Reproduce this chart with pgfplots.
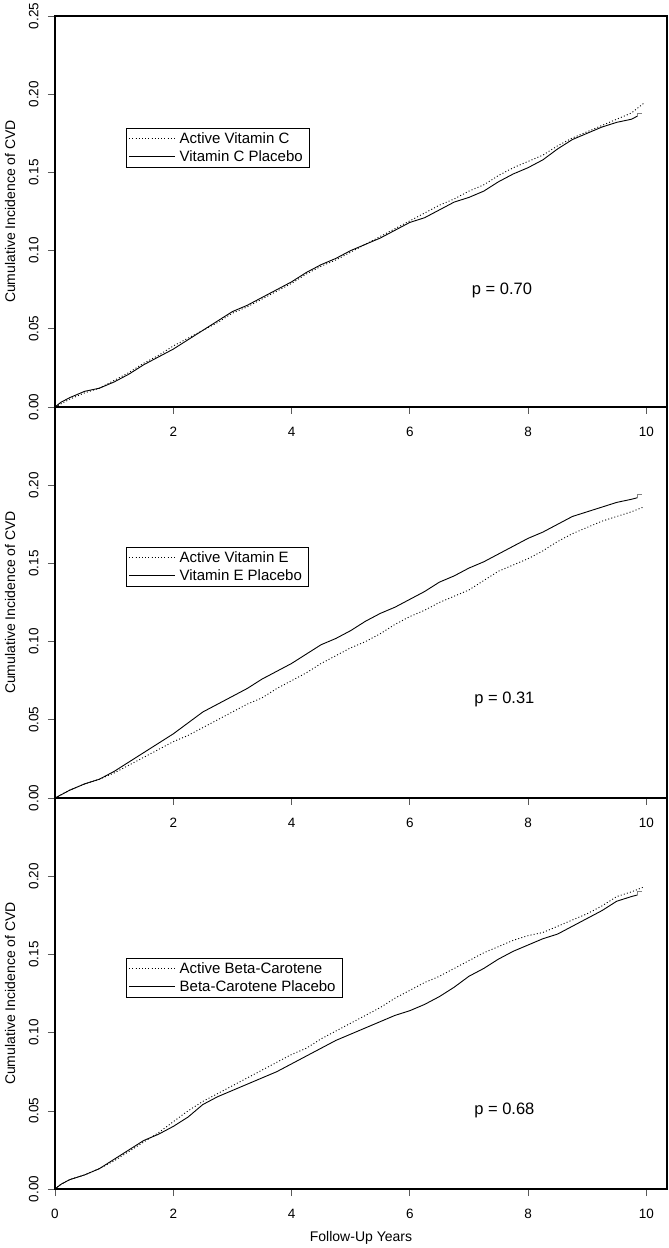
\documentclass[border=0pt]{standalone}
\usepackage{fontspec}
\setmainfont{Liberation Sans}
\usepackage{pgfplots}
\pgfplotsset{compat=1.18}

\pgfplotsset{
 km/.style={
  scale only axis, width=612pt, height=391pt,
  xmin=0, xmax=10.35, ymin=0, ymax=0.25,
  axis line style={line width=1.1pt},
  tick align=outside, xtick pos=left, ytick pos=left,
  major tick length=7pt,
  tick style={line width=0.6pt, black!65},
  ytick={0,0.05,0.10,0.15,0.20},
  yticklabels={0.00,0.05,0.10,0.15,0.20},
  xtick={2,4,6,8,10},
  xticklabels={2,4,6,8,10},
  tick label style={font=\fontsize{13.5}{15}\selectfont},
  yticklabel style={rotate=90, anchor=south},
  xticklabel shift=10pt,
  yticklabel shift=6pt,
  ylabel={Cumulative Incidence of CVD},
  ylabel style={at={(axis description cs:-0.0735,0.5)}, anchor=center, font=\fontsize{14}{16}\selectfont},
  legend style={draw=black, line width=0.6pt, inner xsep=2.5pt, inner ysep=1pt, row sep=0pt,
    font=\fontsize{15}{17}\selectfont, cells={anchor=west}, nodes={inner xsep=4pt, inner ysep=3pt}},
  legend image code/.code={\draw[##1] (0pt,0pt) -- (38pt,0pt); \path (0pt,0pt) -- (46pt,0pt);},
 },
 act/.style={black, line width=0.9pt, dash pattern=on 1pt off 2.2pt},
 plc/.style={black, line width=0.9pt},
 cen/.style={black!50, line width=0.9pt, forget plot},
}

\begin{document}
\begin{tikzpicture}
% ---------------- top panel: vitamin C
\begin{axis}[km, at={(0pt,782pt)}, anchor=south west,
  ytick={0,0.05,0.10,0.15,0.20,0.25},
  yticklabels={0.00,0.05,0.10,0.15,0.20,0.25},
  legend style={at={(axis cs:1.2,0.1784)}, anchor=north west}]
\addplot[act] coordinates {
(0,0) (0.1,0.002) (0.25,0.005) (0.5,0.009) (0.75,0.012) (1.0,0.017) (1.25,0.022) (1.5,0.028) (1.75,0.033)
(2.0,0.039) (2.25,0.044) (2.5,0.049) (2.75,0.054) (3.0,0.060) (3.25,0.064) (3.5,0.069) (3.75,0.074)
(4.0,0.079) (4.25,0.085) (4.5,0.090) (4.75,0.094) (5.0,0.099) (5.25,0.104) (5.5,0.109) (5.75,0.114)
(6.0,0.119) (6.25,0.124) (6.5,0.129) (6.75,0.133) (7.0,0.138) (7.25,0.142) (7.5,0.148) (7.75,0.153)
(8.0,0.157) (8.25,0.161) (8.5,0.167) (8.75,0.172) (9.0,0.176) (9.25,0.180) (9.5,0.184) (9.75,0.188) (9.95,0.194)};
\addlegendentry{Active Vitamin C}
\addplot[plc] coordinates {
(0,0) (0.1,0.003) (0.25,0.006) (0.5,0.010) (0.75,0.012) (1.0,0.016) (1.25,0.021) (1.5,0.027) (1.75,0.032)
(2.0,0.037) (2.25,0.043) (2.5,0.049) (2.75,0.055) (3.0,0.061) (3.25,0.065) (3.5,0.070) (3.75,0.075)
(4.0,0.080) (4.25,0.086) (4.5,0.091) (4.75,0.095) (5.0,0.100) (5.25,0.104) (5.5,0.108) (5.75,0.113)
(6.0,0.118) (6.25,0.121) (6.5,0.126) (6.75,0.131) (7.0,0.134) (7.25,0.138) (7.5,0.144) (7.75,0.149)
(8.0,0.153) (8.25,0.158) (8.5,0.165) (8.75,0.171) (9.0,0.175) (9.25,0.179) (9.5,0.182) (9.75,0.184) (9.85,0.186)};
\addlegendentry{Vitamin C Placebo}
\addplot[cen] coordinates {(9.85,0.186) (9.85,0.188) (9.92,0.188)};
\node[font=\fontsize{16.5}{18}\selectfont] at (axis cs:7.56,0.0748) {p = 0.70};
\end{axis}
% ---------------- middle panel: vitamin E
\begin{axis}[km, at={(0pt,391pt)}, anchor=south west,
  legend style={at={(axis cs:1.2,0.1605)}, anchor=north west}]
\addplot[act] coordinates {
(0,0) (0.1,0.002) (0.25,0.005) (0.5,0.009) (0.75,0.012) (1.0,0.016) (1.25,0.021) (1.5,0.026) (1.75,0.031)
(2.0,0.036) (2.25,0.040) (2.5,0.045) (2.75,0.050) (3.0,0.055) (3.25,0.060) (3.5,0.064) (3.75,0.070)
(4.0,0.075) (4.25,0.080) (4.5,0.086) (4.75,0.091) (5.0,0.096) (5.25,0.100) (5.5,0.105) (5.75,0.111)
(6.0,0.116) (6.25,0.120) (6.5,0.125) (6.75,0.129) (7.0,0.133) (7.25,0.139) (7.5,0.145) (7.75,0.149)
(8.0,0.153) (8.25,0.158) (8.5,0.164) (8.75,0.169) (9.0,0.173) (9.25,0.177) (9.5,0.180) (9.75,0.183) (9.95,0.186)};
\addlegendentry{Active Vitamin E}
\addplot[plc] coordinates {
(0,0) (0.1,0.002) (0.25,0.005) (0.5,0.009) (0.75,0.012) (1.0,0.017) (1.25,0.023) (1.5,0.029) (1.75,0.035)
(2.0,0.041) (2.25,0.048) (2.5,0.055) (2.75,0.060) (3.0,0.065) (3.25,0.070) (3.5,0.076) (3.75,0.081)
(4.0,0.086) (4.25,0.092) (4.5,0.098) (4.75,0.102) (5.0,0.107) (5.25,0.113) (5.5,0.118) (5.75,0.122)
(6.0,0.127) (6.25,0.132) (6.5,0.138) (6.75,0.142) (7.0,0.147) (7.25,0.151) (7.5,0.156) (7.75,0.161)
(8.0,0.166) (8.25,0.170) (8.5,0.175) (8.75,0.180) (9.0,0.183) (9.25,0.186) (9.5,0.189) (9.75,0.191) (9.85,0.192)};
\addlegendentry{Vitamin E Placebo}
\addplot[cen] coordinates {(9.85,0.192) (9.85,0.194) (9.92,0.194)};
\node[font=\fontsize{16.5}{18}\selectfont] at (axis cs:7.6,0.0627) {p = 0.31};
\end{axis}
% ---------------- bottom panel: beta-carotene
\begin{axis}[km, at={(0pt,0pt)}, anchor=south west,
  xtick={0,2,4,6,8,10}, xticklabels={0,2,4,6,8,10},
  xlabel={Follow-Up Years},
  xlabel style={at={(axis description cs:0.5,-0.1253)}, anchor=center, font=\fontsize{14}{16}\selectfont},
  legend style={at={(axis cs:1.2,0.1477)}, anchor=north west}]
\addplot[act] coordinates {
(0,0) (0.1,0.003) (0.25,0.006) (0.5,0.009) (0.75,0.013) (1.0,0.018) (1.25,0.024) (1.5,0.030) (1.75,0.036)
(2.0,0.043) (2.25,0.050) (2.5,0.056) (2.75,0.061) (3.0,0.066) (3.25,0.071) (3.5,0.076) (3.75,0.081)
(4.0,0.086) (4.25,0.090) (4.5,0.096) (4.75,0.101) (5.0,0.106) (5.25,0.111) (5.5,0.116) (5.75,0.122)
(6.0,0.127) (6.25,0.132) (6.5,0.136) (6.75,0.141) (7.0,0.146) (7.25,0.151) (7.5,0.155) (7.75,0.159)
(8.0,0.162) (8.25,0.164) (8.5,0.168) (8.75,0.172) (9.0,0.176) (9.25,0.181) (9.5,0.187) (9.75,0.190) (9.95,0.193)};
\addlegendentry{Active Beta-Carotene}
\addplot[plc] coordinates {
(0,0) (0.1,0.003) (0.25,0.006) (0.5,0.009) (0.75,0.013) (1.0,0.019) (1.25,0.025) (1.5,0.031) (1.75,0.035)
(2.0,0.040) (2.25,0.046) (2.5,0.054) (2.75,0.059) (3.0,0.063) (3.25,0.067) (3.5,0.071) (3.75,0.075)
(4.0,0.080) (4.25,0.085) (4.5,0.090) (4.75,0.095) (5.0,0.099) (5.25,0.103) (5.5,0.107) (5.75,0.111)
(6.0,0.114) (6.25,0.118) (6.5,0.123) (6.75,0.129) (7.0,0.136) (7.25,0.141) (7.5,0.147) (7.75,0.152)
(8.0,0.156) (8.25,0.160) (8.5,0.163) (8.75,0.168) (9.0,0.173) (9.25,0.178) (9.5,0.184) (9.75,0.187) (9.85,0.188)};
\addlegendentry{Beta-Carotene Placebo}
\addplot[cen] coordinates {(9.85,0.188) (9.85,0.190) (9.92,0.190)};
\node[font=\fontsize{16.5}{18}\selectfont] at (axis cs:7.6,0.0505) {p = 0.68};
\end{axis}
\pgfresetboundingbox
\path[use as bounding box] (-55pt,-59pt) rectangle (614pt,1189pt);
\end{tikzpicture}
\end{document}
